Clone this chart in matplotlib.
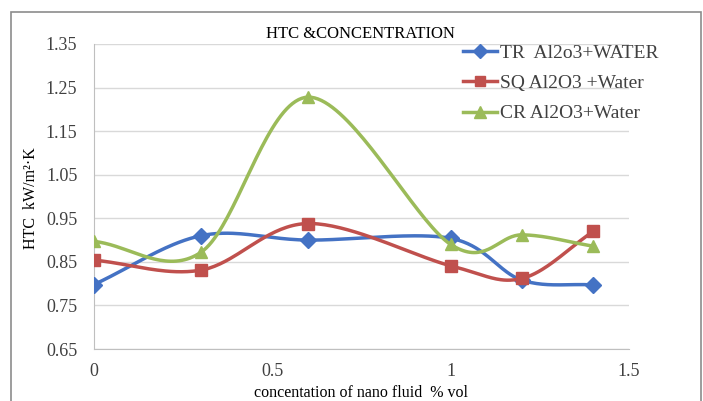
import numpy as np
import matplotlib
matplotlib.use("Agg")
import matplotlib.pyplot as plt
from matplotlib.patches import Rectangle

x_vals = [0, 0.3, 0.6, 1.0, 1.2, 1.4]
tr_vals = [0.798, 0.910, 0.900, 0.904, 0.808, 0.797]
sq_vals = [0.854, 0.831, 0.938, 0.841, 0.812, 0.920]
cr_vals = [0.897, 0.872, 1.228, 0.890, 0.912, 0.886]
series_names = ["TR  Al2o3+WATER", "SQ Al2O3 +Water", "CR Al2O3+Water"]
y_ticks = [0.65, 0.75, 0.85, 0.95, 1.05, 1.15, 1.25, 1.35]
x_ticks = [0, 0.5, 1, 1.5]
x_tick_labels = ["0", "0.5", "1", "1.5"]

W, H = 703, 401


def smooth(ax, xs, ys, n=40):
    # Excel-like smoothed line (Catmull-Rom in display space)
    pts = ax.transData.transform(np.column_stack([xs, ys]))
    P = np.vstack([pts[0] - (pts[1] - pts[0]), pts, pts[-1] + (pts[-1] - pts[-2])])
    out = []
    s = np.linspace(0, 1, n)[:, None]
    h00 = 2*s**3 - 3*s**2 + 1
    h10 = s**3 - 2*s**2 + s
    h01 = -2*s**3 + 3*s**2
    h11 = s**3 - s**2
    for i in range(1, len(P) - 2):
        p0, p1, p2, p3 = P[i-1], P[i], P[i+1], P[i+2]
        m1 = (p2 - p0) * 0.5
        m2 = (p3 - p1) * 0.5
        seg = h00*p1 + h10*m1 + h01*p2 + h11*m2
        out.append(seg if i == 1 else seg[1:])
    out = np.vstack(out)
    d = ax.transData.inverted().transform(out)
    return d[:, 0], d[:, 1]


plt.rcParams['font.family'] = ['Liberation Serif', 'DejaVu Serif']
fig = plt.figure(figsize=(W/100, H/100), dpi=100)
fig.patches.append(Rectangle((11/W, -0.1), (701-11)/W, 1.1 - 12/H, transform=fig.transFigure,
                             fill=False, edgecolor='#8c8c8c', linewidth=1.2))
ax = fig.add_axes([94/W, 1 - 349/H, (629-94)/W, (349-44)/H])
ax.set_xlim(0, 1.5)
ax.set_ylim(0.65, 1.35)

colors = ['#4472C4', '#C0504D', '#9BBB59']
markers = ['D', 's', '^']
msizes = [8, 8, 9]
for ys, c, m, ms, name in zip([tr_vals, sq_vals, cr_vals], colors, markers, msizes, series_names):
    sx, sy = smooth(ax, x_vals, ys)
    ax.plot(sx, sy, color=c, linewidth=2.5, solid_capstyle='round', zorder=3)
    ax.plot(x_vals, ys, linestyle='none', marker=m, color=c, markersize=ms, zorder=3)
    ax.plot([], [], color=c, linewidth=2.5, marker=m, markersize=ms - 1, label=name)

ax.set_yticks(y_ticks)
ax.set_yticklabels([f"{v:.2f}" for v in y_ticks])
ax.set_xticks(x_ticks)
ax.set_xticklabels(x_tick_labels)
ax.tick_params(length=0, labelsize=13, colors='#404040')
ax.tick_params(axis='y', pad=12)
ax.tick_params(axis='x', pad=10)
ax.yaxis.grid(True, color='#d9d9d9', linewidth=1)
ax.set_axisbelow(True)
for s in ['top', 'right']:
    ax.spines[s].set_visible(False)
for s in ['left', 'bottom']:
    ax.spines[s].set_color('#bfbfbf')

fig.text(360/W, 1 - 34/H, "HTC &CONCENTRATION", ha='center', va='center', fontsize=12)
fig.text(31/W, 1 - 198/H, "HTC  kW/m\u00b2\u00b7K", rotation=90, ha='center', va='center', fontsize=11.5)
fig.text(361/W, 1 - 393/H, "concentation of nano fluid  % vol", ha='center', va='center', fontsize=11.5)

leg = ax.legend(loc='upper left', bbox_to_anchor=(463/W, 1 - 44/H), bbox_transform=fig.transFigure,
                frameon=False, fontsize=14, handlelength=1.75, handletextpad=0.15,
                labelspacing=0.66, borderpad=0, borderaxespad=0, labelcolor='#404040')

fig.savefig("out.png", dpi=100)
